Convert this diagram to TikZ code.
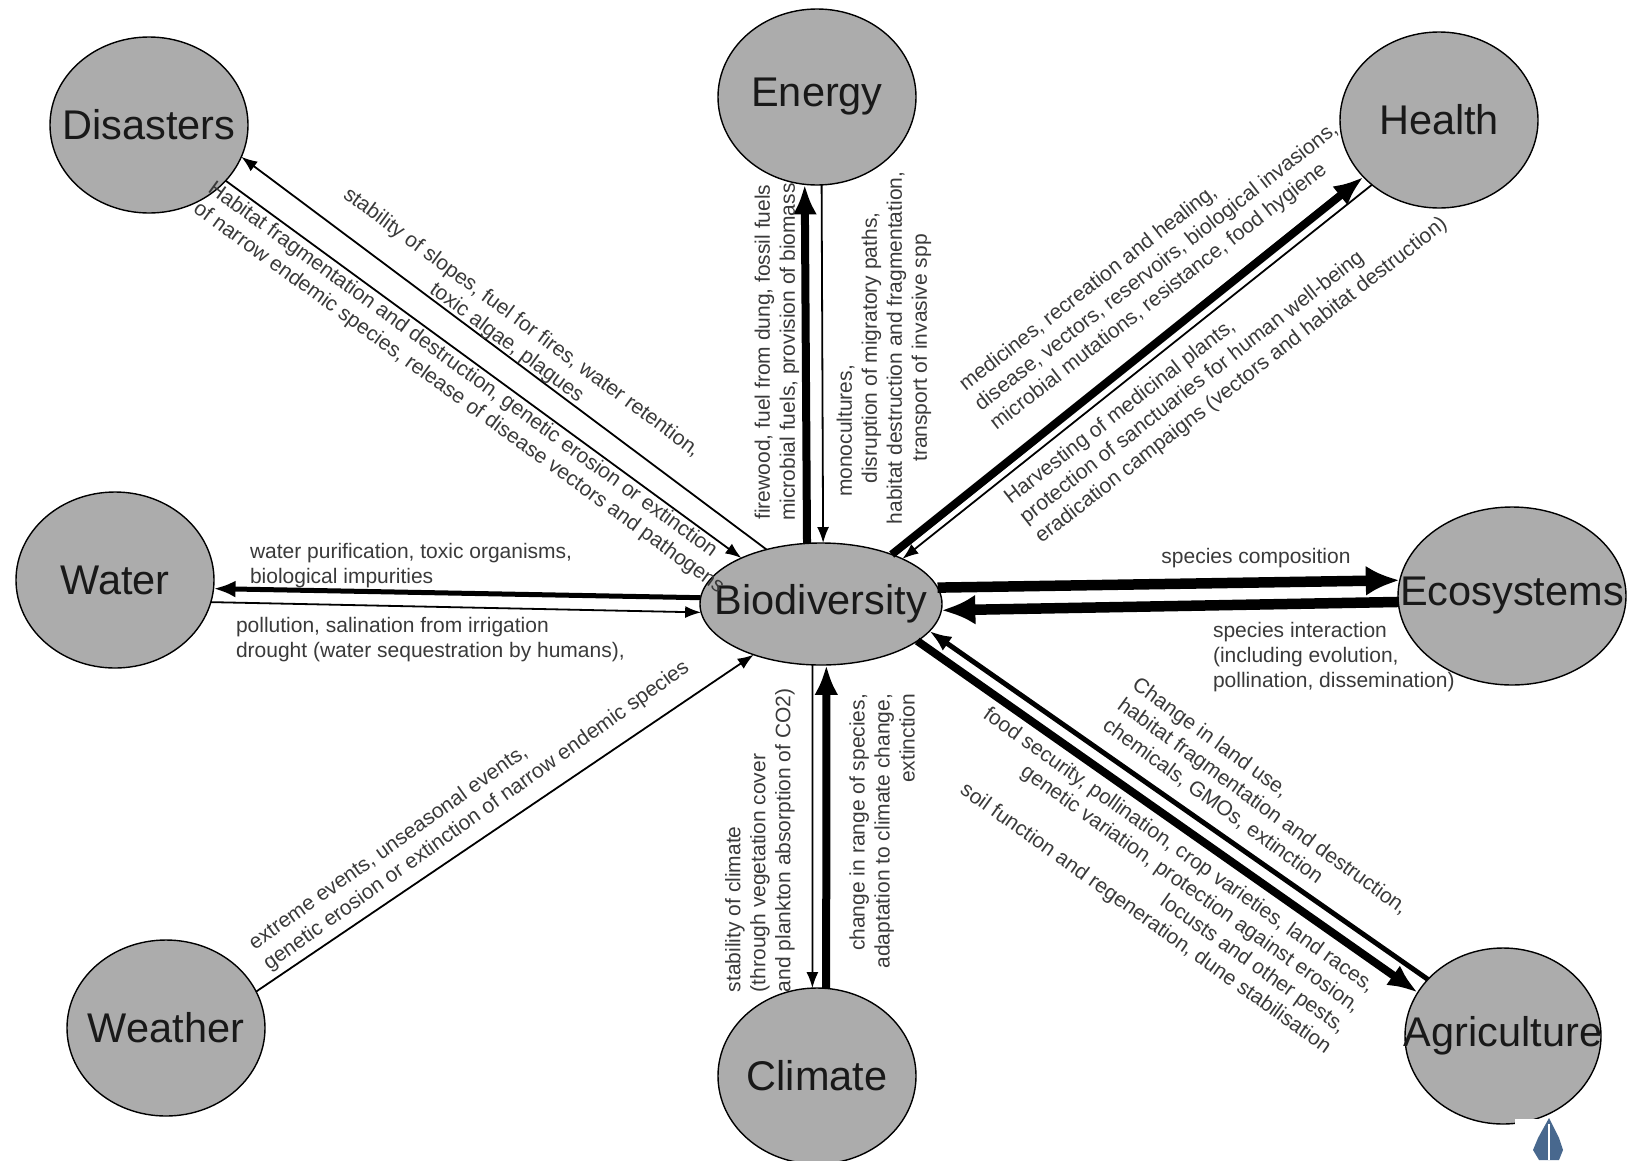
\documentclass[tikz,border=0pt]{standalone}
\usepackage{fontspec}
\setmainfont{Liberation Sans}
\usetikzlibrary{shapes.geometric,arrows.meta}

\definecolor{discgray}{RGB}{172,172,172}
\definecolor{notegray}{RGB}{58,58,58}
\definecolor{nibblue}{RGB}{72,104,142}

\newcommand{\hubfont}{\fontsize{41.5}{48}\selectfont}
\newcommand{\notefont}{\fontsize{21}{25}\selectfont}

\begin{document}
\begin{tikzpicture}[x=1pt,y=-1pt,
  every node/.style={inner sep=0pt, outer sep=0pt},
  hub/.style={ellipse, draw, line width=1.4pt, fill=discgray, minimum width=198pt, minimum height=176pt, text=black!90, font=\hubfont},
  core/.style={hub, minimum width=242pt, minimum height=122pt},
  note/.style={text=notegray, font=\notefont},
  lightarr/.style={line width=1.8pt, -{Latex[length=16pt,width=12pt]}},
  midarr/.style={line width=5pt, -{Latex[length=22pt,width=17pt]}},
  heavyarr/.style={line width=8pt, -{Latex[length=30pt,width=24pt]}},
  hugearr/.style={line width=10.5pt, -{Latex[length=34pt,width=30pt]}}]

\fill[white] (0,0) rectangle (1630,1160);
\clip (0,0) rectangle (1630,1160);

% Biodiversity in the middle, the eight topics round it.

\node[core] (bio) at (821,604) {\makebox[0pt]{Biodiversity}};

\node[hub] (dis) at (149,125) {\makebox[0pt]{Disasters}};
\node[hub] (ene) at (817,97) {\makebox[0pt]{Energy}};
\node[hub] (hea) at (1439,120) {\makebox[0pt]{Health}};
\node[hub] (wat) at (115,580) {\makebox[0pt]{Water}};
\node[hub, minimum width=228pt, minimum height=178pt] (eco) at (1512,596) {\makebox[0pt]{Ecosystems}};
\node[hub] (wea) at (166,1028) {\makebox[0pt]{Weather}};
\node[hub] (cli) at (817,1076) {\makebox[0pt]{Climate}};
\node[hub, minimum width=196pt] (agr) at (1503,1036) {\makebox[0pt]{Agriculture}};

\draw[lightarr] (bio.135) -- (dis.-19);
\draw[lightarr] (dis.-36) -- (bio.150);

\draw[heavyarr] (bio.103) -- (ene.262);
\draw[lightarr] (ene.273) -- (bio.88);

\draw[heavyarr] (bio.35) -- (hea.217);
\draw[lightarr] (hea.224) -- (bio.29);

\draw[midarr] (bio.177) -- (wat.-5);
\draw[lightarr] (wat.-13) -- (bio.184);

\draw[hugearr] (bio.8) -- (eco.172);
\draw[hugearr] (eco.183) -- (bio.-3);

\draw[lightarr] (wea.22) -- (bio.217);

\draw[lightarr] (bio.262) -- (cli.93);
\draw[heavyarr] (cli.84) -- (bio.275);

\draw[heavyarr] (bio.-21) -- (agr.153);
\draw[midarr] (agr.143) -- (bio.-14);

\node[note, rotate=-36.5, align=center] (disup) at (514,333) {stability of slopes, fuel for fires, water retention,\\toxic algae, plagues};
\node[note, rotate=-36, align=left, anchor=west] (dislow) at (203,197) {Habitat fragmentation and destruction, genetic erosion or extinction\\of narrow endemic species, release of disease vectors and pathogens};

\node[note, rotate=90, align=center] (eneleft) at (777,352) {firewood, fuel from dung, fossil fuels\\microbial fuels, provision of biomass};
\node[note, rotate=90, align=center] (eneright) at (884,348) {monocultures,\hspace*{166pt}\\disruption of migratory paths,\\habitat destruction and fragmentation,\\transport of invasive spp};

\node[note, rotate=38, align=left, anchor=west] (heaup) at (978,407) {medicines, recreation and healing,\\disease, vectors, reservoirs, biological invasions,\\microbial mutations, resistance, food hygiene};
\node[note, rotate=38, align=left, anchor=west] (healow) at (1023,520) {Harvesting of medicinal plants,\\protection of sanctuaries for human well-being\\eradication campaigns (vectors and habitat destruction)};

\node[note, align=left, anchor=west] (watup) at (250,566) {water purification, toxic organisms,\\biological impurities};
\node[note, align=left, anchor=west] (watlow) at (236,640) {pollution, salination from irrigation\\drought (water sequestration by humans),};

\node[note] (ecoup) at (1256,558) {species composition};
\node[note, align=left, anchor=west] (ecolow) at (1213,657) {species interaction\\(including evolution,\\pollination, dissemination)};

\node[note, rotate=35.5, align=left, anchor=west] (wealab) at (259,956) {extreme events, unseasonal events,\\genetic erosion or extinction of narrow endemic species};

\node[note, rotate=90, align=left, anchor=west] (clileft) at (760,992) {stability of climate\\(through vegetation cover\\and plankton absorption of CO2)};
\node[note, rotate=90, align=right, anchor=east] (cliright) at (882,694) {change in range of species,\\adaptation to climate change,\\extinction};

\node[note, rotate=-36, align=left, anchor=west] (agrup) at (1120,703) {Change in land use,\\habitat fragmentation and destruction,\\chemicals, GMOs, extinction};
\node[note, rotate=-35.5, align=right, anchor=east] (agrlow) at (1350,1019) {food security, pollination, crop varieties, land races,\\genetic variation, protection against erosion,\\locusts and other pests,\\soil function and regeneration, dune stabilisation};

% pen nib in the corner
\fill[white] (1515,1119) rectangle (1630,1160);
\fill[nibblue] (1549,1118) -- (1538,1138) -- (1533,1150) -- (1539,1160) -- (1559,1160) -- (1563,1150) -- (1559,1138) -- cycle;
\draw[white, line width=1.5pt] (1549,1124) -- (1549,1160);

\end{tikzpicture}
\end{document}
